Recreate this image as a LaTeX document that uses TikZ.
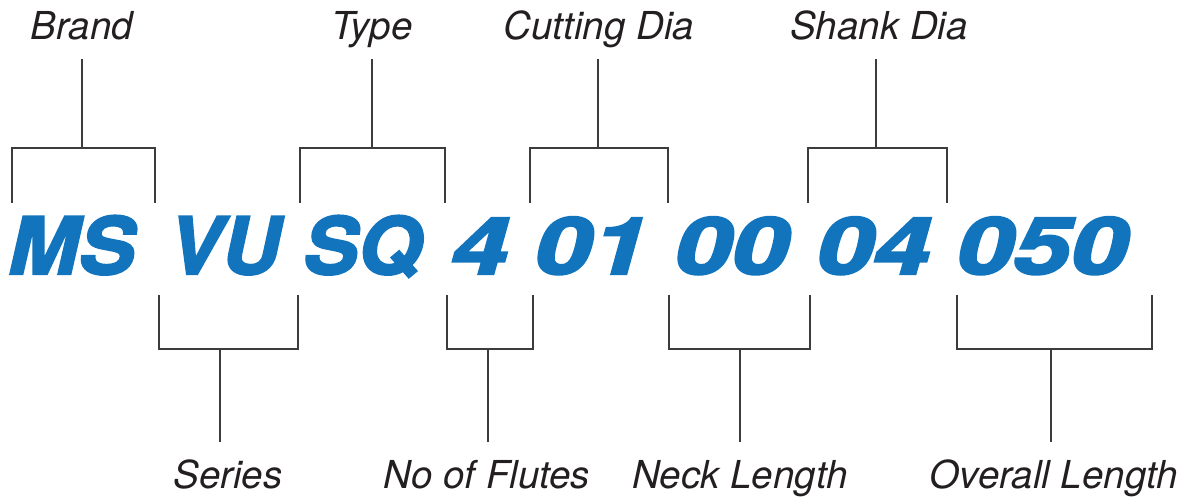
\documentclass[tikz,border=0pt]{standalone}
\usepackage{fontspec}
\usepackage{graphicx}
\newfontfamily\labfont{TeX Gyre Heros}
\newfontfamily\codefont[FakeBold=2.6]{TeX Gyre Heros}
\definecolor{codeblue}{HTML}{1274BC}
\definecolor{labink}{HTML}{231F20}
\definecolor{lineink}{HTML}{3C3C3C}
\tikzset{
  lab/.style={anchor=base, inner sep=0pt, text=labink, font=\labfont\itshape\fontsize{38.5}{40}\selectfont},
  code/.style={anchor=base west, inner sep=0pt, text=codeblue},
  bracket/.style={draw=lineink, line width=1.4pt, line cap=butt, line join=miter}
}
\newcommand\cgrp[2]{\scalebox{#1}[1]{\codefont\bfseries\itshape\fontsize{79}{80}\selectfont #2}}
\begin{document}
\begin{tikzpicture}[x=1pt,y=-1pt]
\useasboundingbox (0,0) rectangle (1187,497);
% labels
\node[lab] (brand)   at (82,40)   {Brand};
\node[lab] (type)    at (372,40)  {Type};
\node[lab] (cutting) at (599,40)  {Cutting Dia};
\node[lab] (shank)   at (879,40)  {Shank Dia};
\node[lab] (series)  at (228,488) {Series};
\node[lab] (flutes)  at (487,488) {No of Flutes};
\node[lab] (neck)    at (740,488) {Neck Length};
\node[lab] (overall) at (1054,488){Overall Length};
% code
\node[code] (c1) at (8,274)   {\cgrp{1.07}{MS}};
\node[code] (c2) at (168,274) {\cgrp{1.02}{VU}};
\node[code] (c3) at (303,274) {\cgrp{1.04}{SQ}};
\node[code] (c4) at (451,274) {\cgrp{1.3}{4}};
\node[code] (c5) at (534,274) {\cgrp{1.3}{01}};
\node[code] (c6) at (674,274) {\cgrp{1.3}{00}};
\node[code] (c7) at (816,274) {\cgrp{1.3}{04}};
\node[code] (c8) at (956,274) {\cgrp{1.3}{050}};
% top brackets
\foreach \n/\xl/\xr/\xs in {tb/12/155/82, tt/300/445/372, tc/530/668/598, ts/808/947/876}{
  \coordinate (\n-l) at (\xl,203);
  \coordinate (\n-r) at (\xr,203);
  \coordinate (\n-j) at (\xs,148);
  \coordinate (\n-s) at (\xs,59);
  \draw[bracket] (\n-l) -- (\n-l |- \n-j) -- (\n-r |- \n-j) -- (\n-r);
  \draw[bracket] (\n-s) -- (\n-j);
}
% bottom brackets
\foreach \n/\xl/\xr/\xs in {bs/159/298/220, bf/447/533/488, bn/669/810/740, bo/957/1152/1051}{
  \coordinate (\n-l) at (\xl,295);
  \coordinate (\n-r) at (\xr,295);
  \coordinate (\n-j) at (\xs,349);
  \coordinate (\n-s) at (\xs,442);
  \draw[bracket] (\n-l) -- (\n-l |- \n-j) -- (\n-r |- \n-j) -- (\n-r);
  \draw[bracket] (\n-s) -- (\n-j);
}
\end{tikzpicture}
\end{document}
